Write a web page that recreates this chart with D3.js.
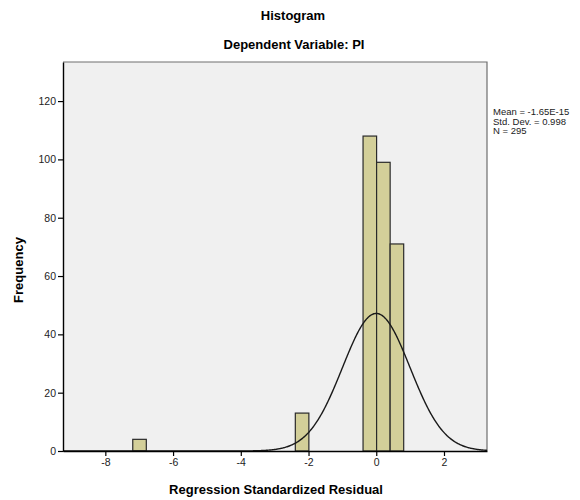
<!DOCTYPE html>
<html>
<head>
<meta charset="utf-8">
<script src="https://cdn.jsdelivr.net/npm/d3@7"></script>
<style>
  html, body { margin: 0; padding: 0; background: #ffffff; }
  svg { display: block; }
  text { font-family: "Liberation Sans", Arial, sans-serif; }
</style>
</head>
<body>
<svg id="chart" width="580" height="500"></svg>
<script>
// ---- data ----
const binStarts = [-7.19, -2.39, -0.39, 0.01, 0.41];
const binCounts = [4, 13, 108, 99, 71];
const binWidth = 0.4;
const xTicks = [-8, -6, -4, -2, 0, 2];
const yTicks = [0, 20, 40, 60, 80, 100, 120];
const statMean = -1.65e-15;
const statSD = 0.998;
const statN = 295;
const legendLines = ["Mean = -1.65E-15", "Std. Dev. = 0.998", "N = 295"];

// ---- layout ----
const svg = d3.select("#chart");
const pL = 63, pR = 487, pT = 62, pB = 451;

const x = d3.scaleLinear().domain([-9.25, 3.27]).range([pL, pR]);
const y = d3.scaleLinear().domain([0, 133.4]).range([pB, pT]);

// plot background
svg.append("rect")
  .attr("x", pL).attr("y", pT)
  .attr("width", pR - pL).attr("height", pB - pT)
  .attr("fill", "#f0f0f0")
  .attr("stroke", "none");

// frame top/right (gray)
svg.append("path")
  .attr("d", `M${pL},${pT}H${pR}V${pB}`)
  .attr("fill", "none")
  .attr("stroke", "#6e6e6e")
  .attr("stroke-width", 1.2);

// bars
const bars = binStarts.map((s, i) => ({ x0: s, x1: s + binWidth, n: binCounts[i] }));
svg.append("g").selectAll("rect").data(bars).join("rect")
  .attr("x", d => x(d.x0))
  .attr("y", d => y(d.n))
  .attr("width", d => x(d.x1) - x(d.x0))
  .attr("height", d => y(0) - y(d.n))
  .attr("fill", "#d3cf99")
  .attr("stroke", "#2a2a2a")
  .attr("stroke-width", 1.2);

// normal curve
const pdf = v => Math.exp(-0.5 * Math.pow((v - statMean) / statSD, 2)) / (statSD * Math.sqrt(2 * Math.PI));
const curvePts = d3.range(-9.25, 3.2701, 0.02).map(v => [v, statN * binWidth * pdf(v)]);
svg.append("path")
  .datum(curvePts)
  .attr("d", d3.line().x(d => x(d[0])).y(d => y(d[1])).curve(d3.curveLinear))
  .attr("fill", "none")
  .attr("stroke", "#1a1a1a")
  .attr("stroke-width", 1.4);

// axes
const fmt = d => String(d);
const xAxis = svg.append("g")
  .attr("transform", `translate(0,${pB})`)
  .call(d3.axisBottom(x).tickValues(xTicks).tickFormat(fmt).tickSize(5).tickSizeOuter(0).tickPadding(3));
const yAxis = svg.append("g")
  .attr("transform", `translate(${pL},0)`)
  .call(d3.axisLeft(y).tickValues(yTicks).tickFormat(fmt).tickSize(5).tickSizeOuter(0).tickPadding(2));
[xAxis, yAxis].forEach(g => {
  g.select(".domain").attr("stroke", "#000").attr("stroke-width", 1.4);
  g.selectAll(".tick line").attr("stroke", "#000").attr("stroke-width", 1.2);
  g.selectAll(".tick text")
    .attr("fill", "#222")
    .style("font-size", "10.5px")
    .style("font-family", "'Liberation Sans', Arial, sans-serif");
});

// titles
svg.append("text")
  .attr("x", 293).attr("y", 20)
  .attr("text-anchor", "middle")
  .style("font-size", "13px").style("font-weight", "bold")
  .attr("fill", "#000")
  .text("Histogram");
svg.append("text")
  .attr("x", 294).attr("y", 49)
  .attr("text-anchor", "middle")
  .style("font-size", "13px").style("font-weight", "bold")
  .attr("fill", "#000")
  .text("Dependent Variable: PI");

// axis titles
svg.append("text")
  .attr("x", 276).attr("y", 494)
  .attr("text-anchor", "middle")
  .style("font-size", "13px").style("font-weight", "bold")
  .attr("fill", "#000")
  .text("Regression Standardized Residual");
svg.append("text")
  .attr("transform", "translate(23,270) rotate(-90)")
  .attr("text-anchor", "middle")
  .style("font-size", "13px").style("font-weight", "bold")
  .attr("fill", "#000")
  .text("Frequency");

// legend
svg.append("g").selectAll("text").data(legendLines).join("text")
  .attr("x", 493)
  .attr("y", (d, i) => 115 + i * 9.5)
  .style("font-size", "9.5px")
  .attr("fill", "#222")
  .text(d => d);
</script>
</body>
</html>
